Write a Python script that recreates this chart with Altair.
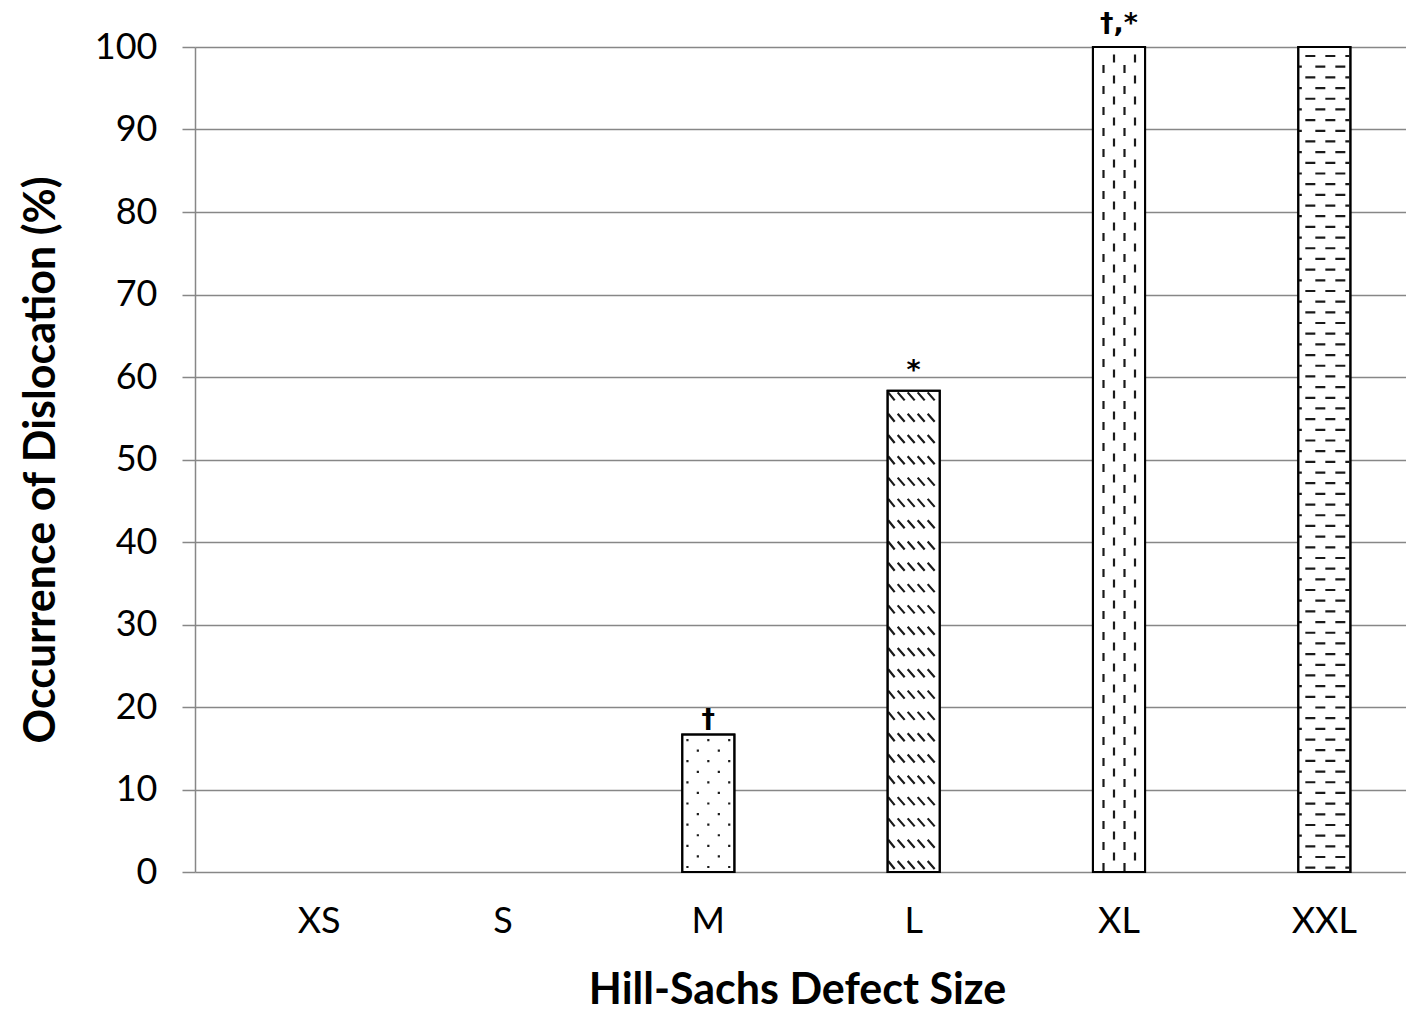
import altair as alt
import pandas as pd

# ---- data ----
categories = ["XS", "S", "M", "L", "XL", "XXL"]
occurrence = [0.0, 0.0, 16.67, 58.33, 100.0, 100.0]
markers = ["", "", "†", "*", "†,*", ""]
patterns = ["none", "none", "dots", "diag", "vdash", "hdash"]
y_ticks = list(range(0, 101, 10))

PLOT_W = 1211
PLOT_H = 825
PX_PER_UNIT = PLOT_H / 100.0

# texture motifs: symbol paths in pixel units (symbol size 4 -> 1 unit = 1 px)
MOTIFS = {
    "dots": dict(step=10.58, first=5.0, ext=1.5,
                 rows=["M-22,0h2.2M-1.1,0h2.2M19.8,0h2.2", "M-11.6,0h2.2M9.4,0h2.2"]),
    "diag": dict(step=21.3, first=7.0, ext=4.0,
                 rows=["M-25.5,-4L-19,4M-16,-4L-9,4M-6,-4L1,4M4,-4L11,4M14,-4L21,4"]),
    "vdash": dict(step=10.5, first=5.0, ext=4.0,
                  rows=["M-15.5,-4V4M5.5,-4V4", "M-5,-4V4M16,-4V4"]),
    "hdash": dict(step=10.68, first=4.3, ext=1.0,
                  rows=["M-19,0H-9M1,0H11M21,0H25", "M-25.5,0H-22.5M-9,0H1M11,0H21"]),
}

tex_rows = []
for cat, val, pat in zip(categories, occurrence, patterns):
    if pat not in MOTIFS or val <= 0:
        continue
    m = MOTIFS[pat]
    h = val * PX_PER_UNIT
    k = 0
    while True:
        p = m["first"] + k * m["step"]
        if p + m["ext"] > h - 1:
            break
        tex_rows.append({"size": cat, "value": p / PX_PER_UNIT,
                         "motif": m["rows"][k % len(m["rows"])]})
        k += 1

df = pd.DataFrame({"size": categories, "value": occurrence, "marker": markers})
tex = pd.DataFrame(tex_rows)

GRID = "#878787"

x_enc = alt.X(
    "size:N", sort=categories,
    scale=alt.Scale(domain=categories, range=[0, 1232],
                    paddingInner=0.746, paddingOuter=0.373),
    axis=alt.Axis(
        title="Hill-Sachs Defect Size", labelAngle=0,
        labelAlign={"condition": {"test": "datum.value == 'XS'", "value": "left"},
                    "value": "center"},
        labelFont="Lato", labelFontSize=36, labelColor="black", labelPadding=32,
        domain=False, ticks=False, tickSize=0, grid=False,
        titleFont="Lato", titleFontSize=43, titleFontWeight="bold", titleColor="black",
        titleX=602, titleY=131, titleBaseline="alphabetic", titleAlign="center",
    ),
)
y_enc = alt.Y(
    "value:Q",
    scale=alt.Scale(domain=[0, 100], nice=False),
    axis=alt.Axis(
        title="Occurrence of Dislocation (%)", values=y_ticks,
        grid=True, gridColor=GRID, gridWidth=1.5,
        domain=True, domainColor=GRID, domainWidth=1.5,
        ticks=True, tickColor=GRID, tickWidth=1.5, tickSize=13,
        labelFont="Lato", labelFontSize=36, labelColor="black", labelPadding=25,
        labelFlush=False,
        titleFont="Lato", titleFontSize=43, titleFontWeight="bold", titleColor="black",
        titleAngle=270, titleX=-141, titleY=412.5,
        titleBaseline="alphabetic", titleAlign="center",
    ),
)

bars = alt.Chart(df).transform_filter("datum.value > 0").mark_bar(
    fill="white", stroke="black", strokeWidth=2
).encode(x=x_enc, y=y_enc)

texture = alt.Chart(tex).mark_point(
    filled=False, stroke="#1a1a1a", strokeWidth=2.2, size=4, opacity=1, strokeCap="butt"
).encode(x=x_enc, y=y_enc, shape=alt.Shape("motif:N", scale=None, legend=None))

border = alt.Chart(df).transform_filter("datum.value > 0").mark_bar(
    fill="white", fillOpacity=0, stroke="black", strokeWidth=2
).encode(x=x_enc, y=y_enc)


def note_layer(expr, dy):
    return alt.Chart(df).transform_filter(expr).mark_text(
        font="DejaVu Sans", fontSize=27, fontWeight="bold", baseline="alphabetic",
        align="center", dy=dy, color="black"
    ).encode(x=x_enc, y=y_enc, text="marker:N")


notes_dagger = note_layer("datum.marker == '†'", -6)
notes_star = note_layer("datum.marker == '*'", -12)
notes_both = note_layer("length(datum.marker) > 1", -15)

chart = alt.layer(bars, texture, border, notes_dagger, notes_star, notes_both).properties(
    width=PLOT_W, height=PLOT_H,
    autosize=alt.AutoSizeParams(type="none"),
    padding={"left": 187, "top": 39, "right": 0, "bottom": 140},
    background="white",
).configure_view(strokeWidth=0)

chart.save("out.html", embed_options={"renderer": "svg", "actions": False})
